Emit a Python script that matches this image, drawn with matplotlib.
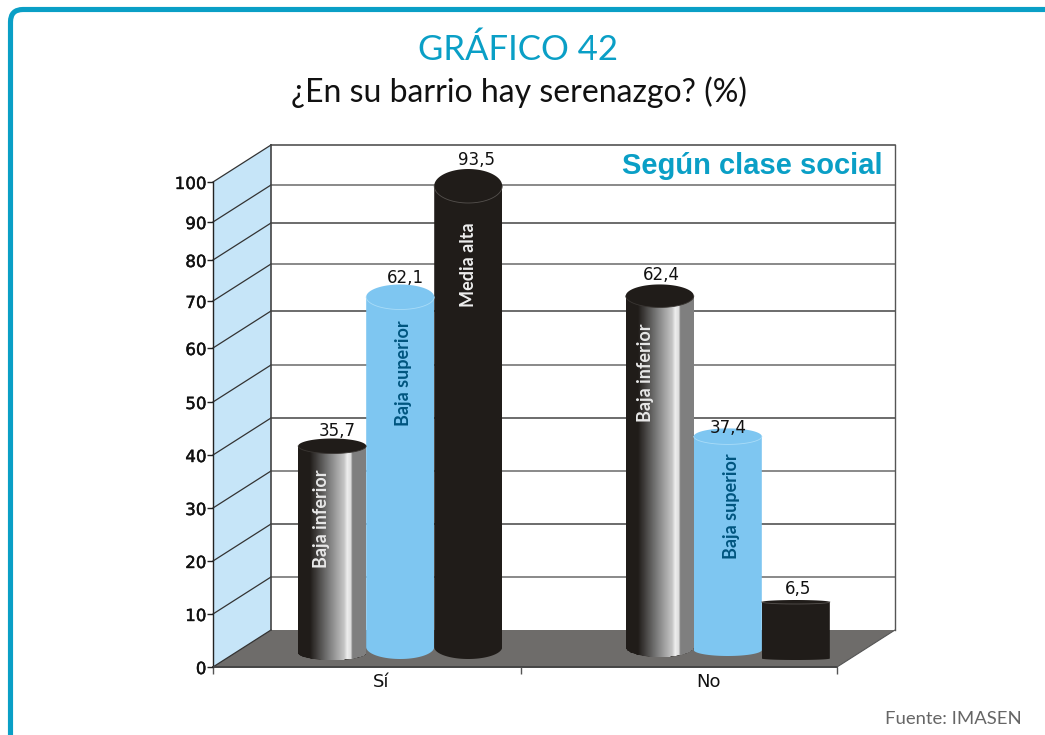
import numpy as np
import matplotlib
matplotlib.use("Agg")
import matplotlib.pyplot as plt
import matplotlib.patheffects as pe
from matplotlib.path import Path
from matplotlib.patches import PathPatch, Polygon
from matplotlib.transforms import IdentityTransform, ScaledTranslation
from matplotlib.colors import LinearSegmentedColormap

# ---- data
categories = ["Sí", "No"]
series = ["Baja inferior", "Baja superior", "Media alta"]
si_values = [35.7, 62.1, 93.5]
no_values = [62.4, 37.4, 6.5]
value_labels_si = ["35,7", "62,1", "93,5"]
value_labels_no = ["62,4", "37,4", "6,5"]
y_ticks = list(range(0, 101, 10))

# ---- the drawing's uneven axis scales (value -> pixels above the base)
wall_values = [0, 50, 60, 70, 80, 90, 100]
wall_pixels = [0, 265, 319, 366, 407, 445, 485]
bar_values = [-10, 0, 6.5, 35.7, 62.1, 93.5, 100]
bar_pixels = [-31, 0, 47, 203, 352, 463, 486]

W, H = 1045, 735
TEAL = "#0a9fc6"
BLACK = "#201c19"
BLUE = "#7ec6f1"
NARROW = ["Lato", "Liberation Sans"]
SEMI = [pe.withStroke(linewidth=0.3, foreground="#111111")]

plt.rcParams["font.family"] = ["DejaVu Sans"]
fig = plt.figure(figsize=(W / 100, H / 100), dpi=100, facecolor="white")


def axes_px(x0, top, x1, bottom, **kw):
    return fig.add_axes([x0 / W, 1 - bottom / H, (x1 - x0) / W, (bottom - top) / H], **kw)


# ---- outer frame
frame = Path(
    [(10.5, -5), (10.5, H - 22), (10.5, H - 9.5), (23, H - 9.5), (W + 5, H - 9.5)],
    [Path.MOVETO, Path.LINETO, Path.CURVE3, Path.CURVE3, Path.LINETO],
)
fig.add_artist(PathPatch(frame, fc="none", ec=TEAL, lw=3.7, transform=IdentityTransform()))

# ---- front plane axes, carrying the value scale
ax = axes_px(213, 182, 837, 667)
ax.patch.set_alpha(0)
ax.set_yscale(
    "function",
    functions=(
        lambda v: np.interp(v, wall_values, wall_pixels),
        lambda p: np.interp(p, wall_pixels, wall_values),
    ),
)
ax.set_xlim(0, 2)
ax.set_ylim(0, 100)
for s in ax.spines.values():
    s.set_visible(False)
ax.set_yticks(y_ticks)
ax.tick_params(axis="y", length=4.3, width=1, labelsize=12, pad=0.5, color="#222222")
ax.set_xticks([0.538, 1.587])
ax.set_xticklabels(categories, fontsize=13)
ax.tick_params(axis="x", which="major", length=0, pad=4)
ax.set_xticks([0, 0.987, 2], minor=True)
ax.tick_params(axis="x", which="minor", length=5, width=1, color="#555555")
for t in ax.get_yticklabels():
    t.set_color("#111111")
    t.set_path_effects(SEMI)
for t in ax.get_xticklabels():
    t.set_color("#111111")

DX, DY = 58, 37
back = ax.transData + ScaledTranslation(DX / 100, DY / 100, fig.dpi_scale_trans)


def front_pt(x, v):
    return ax.transData.transform((x, v))


# left wall, floor and back wall
p00, p01 = front_pt(0, 0), front_pt(0, 100)
p20 = front_pt(2, 0)
off = np.array([DX, DY])
ax.add_patch(Polygon([p00, p01, p01 + off, p00 + off], fc="#c6e5f8", ec="none",
                     transform=IdentityTransform(), clip_on=False, zorder=0.5))
ax.add_patch(Polygon([p00, p20, p20 + off, p00 + off], fc="#6e6c6a", ec="none",
                     transform=IdentityTransform(), clip_on=False, zorder=0.6))
for v in y_ticks:
    a = front_pt(0, v)
    ax.plot([a[0], a[0] + DX], [a[1], a[1] + DY], color="#333333", lw=0.9,
            transform=IdentityTransform(), clip_on=False, zorder=1)
    if v > 0:
        ax.plot([0, 2], [v, v], color="#6a6a6a" if v % 20 else "#444444", lw=1.1,
                transform=back, clip_on=False, zorder=0.8)
ax.plot([0, 0], [0, 100], color="#444444", lw=1.2, transform=back, clip_on=False, zorder=1)
ax.plot([2, 2], [0, 100], color="#555555", lw=1.0, transform=back, clip_on=False, zorder=1)
ax.plot([0, 0], [0, 100], color="#222222", lw=1.0, clip_on=False, zorder=1.2)
ax.plot([0, 2], [0, 0], color="#444444", lw=1.4, clip_on=False, zorder=1.2)
ax.plot([p20[0], p20[0] + DX], [p20[1], p20[1] + DY], color="#555555", lw=0.8,
        transform=IdentityTransform(), clip_on=False, zorder=1.2)

# ---- bars axes, carrying the bar scale
BASE = 649
axb = axes_px(213, BASE - 486, 837, BASE + 31)
axb.patch.set_alpha(0)
axb.set_axis_off()
axb.set_yscale(
    "function",
    functions=(
        lambda v: np.interp(v, bar_values, bar_pixels),
        lambda p: np.interp(p, bar_pixels, bar_values),
    ),
)
axb.set_xlim(0, 2)
axb.set_ylim(-10, 100)

group_x = [0.6, 1.65]
bar_w = 0.218
offsets = [-bar_w, 0, bar_w]
metal = LinearSegmentedColormap.from_list(
    "metal",
    [(0, BLACK), (0.17, BLACK), (0.42, "#707070"), (0.68, "#c4c4c4"), (0.73, "#ededed"),
     (0.78, "#dddddd"), (0.81, "#7f7f7f"), (1, "#7f7f7f")],
)
fills = [None, BLUE, BLACK]
arc_col = ["#3a3633", "#a9dcf8", "#55514e"]

# style of each bar: top half-height, bottom half-height, bottom pixel row, label offset (px)
top_h = [[7.5, 12.5, 17], [11.5, 8, 2]]
bot_h = [[7, 12, 12], [10, 6, 1.5]]
bot_y = [[653, 647, 647], [647, 650, 658.5]]
lab_off = [[(5, 15), (5, 19), (8, 26)], [(2, 21), (0, 8), (2, 13)]]
inner = [[(321, 519), (404, 373), (468, 265)], [(646, 373), (731, 506), None]]
inner_col = ["#e8e8e8", "#00557f", "#eeeeee"]
tt = np.linspace(0, np.pi, 60)

for g, vals, labs in zip(range(2), [si_values, no_values], [value_labels_si, value_labels_no]):
    for i, v in enumerate(vals):
        xc = group_x[g] + offsets[i]
        cx, cy = axb.transData.transform((xc, v))
        left = axb.transData.transform((xc - bar_w / 2, v))[0]
        right = axb.transData.transform((xc + bar_w / 2, v))[0]
        rx = (right - left) / 2
        by = H - bot_y[g][i]
        # body outline in display space: flat top, elliptic bottom
        pts = [(left, cy), (right, cy)]
        pts += [(cx + rx * np.cos(t), by - bot_h[g][i] * np.sin(t)) for t in tt]
        clip = Path(pts + [pts[0]])
        bar = axb.bar(xc, v + 8, bottom=-8, width=bar_w, zorder=2,
                      color=fills[i] if fills[i] else BLACK, linewidth=0)[0]
        bar.set_clip_path(clip, IdentityTransform())
        if fills[i] is None:
            edges = np.linspace(xc - bar_w / 2, xc + bar_w / 2, 69)
            m = axb.pcolormesh(edges, [-8, v], np.linspace(0, 1, 68)[None, :],
                               cmap=metal, vmin=0, vmax=1, zorder=2.1, shading="flat",
                               linewidth=0)
            m.set_clip_path(clip, IdentityTransform())
        # top cap
        phi = np.linspace(0, 2 * np.pi, 120)
        cap = Path(np.c_[cx + rx * np.cos(phi), cy + top_h[g][i] * np.sin(phi)])
        axb.add_patch(PathPatch(cap, fc=fills[i] if fills[i] else BLACK, ec="none",
                                transform=IdentityTransform(), zorder=3, clip_on=False))
        axb.plot(cx + rx * np.cos(tt), cy - top_h[g][i] * np.sin(tt), color=arc_col[i],
                 lw=0.6, transform=IdentityTransform(), zorder=3.1, clip_on=False)
        # value label
        dx, dy = lab_off[g][i]
        axb.annotate(labs[i], xy=(xc, v), xytext=(dx, dy), textcoords="offset pixels",
                     ha="center", va="center", fontsize=12, color="#111111", zorder=5,
                     annotation_clip=False)
        # name written along the bar
        if inner[g][i] is not None:
            px, py = inner[g][i]
            fig.text(px / W, 1 - py / H, series[i], rotation=90, ha="center", va="center",
                     family=NARROW, fontweight="bold", fontsize=13, color=inner_col[i],
                     zorder=6)

# ---- texts
fig.text(518.5 / W, 1 - 50 / H, "GRÁFICO 42", ha="center", va="center", family=NARROW,
         fontsize=25, color=TEAL)
fig.text(519 / W, 1 - 92 / H, "¿En su barrio hay serenazgo? (%)", ha="center", va="center",
         family=NARROW, fontsize=23, color="#111111")
fig.text(883 / W, 1 - 166 / H, "Según clase social", ha="right", va="center",
         family=["Liberation Sans"], fontweight="bold", fontsize=21, color=TEAL, zorder=6)
fig.text(1022 / W, 1 - 719 / H, "Fuente: IMASEN", ha="right", va="center", family=NARROW,
         fontsize=13.3, color="#666666")

fig.savefig("out.png", dpi=100, facecolor="white")
